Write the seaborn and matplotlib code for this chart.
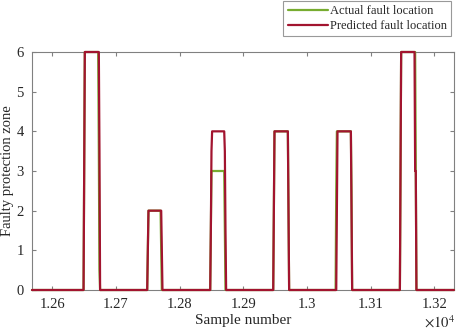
import numpy as np
import pandas as pd
import matplotlib
matplotlib.use('Agg')
import matplotlib.pyplot as plt
import seaborn as sns

# sample range shown on the x axis
x_first = 12568
x_last = 13231

# fault pulses (sample indices, zone levels)
pred_starts = [12650, 12750, 12849, 12948, 13047, 13147]
pred_ends = [12675, 12773, 12873, 12972, 13071, 13172]
pred_levels = [6, 2, 4, 4, 4, 6]
pred_rise = [[3], [1], [1.5, 3.5], [2], [2], [3]]
pred_fall = [[3.5], [1], [3.5, 1.5], [2], [2], [3, 3]]

act_starts = [12650, 12750, 12849, 12948, 13046, 13147]
act_ends = [12675, 12772, 12872, 12972, 13071, 13172]
act_levels = [6, 2, 3, 4, 4, 6]
act_rise = [[3], [1], [1.5, 3], [2], [2.5], [3]]
act_fall = [[3.5, 0.5], [1], [1.5], [2], [2.5], [3]]

x_ticks = [12600, 12700, 12800, 12900, 13000, 13100, 13200]
x_tick_labels = ['1.26', '1.27', '1.28', '1.29', '1.3', '1.31', '1.32']
y_ticks = [0, 1, 2, 3, 4, 5, 6]


def build_series(starts, ends, levels, rises, falls):
    samples = np.arange(x_first, x_last + 1)
    zone = np.zeros(len(samples))
    for s, e, lvl, r, f in zip(starts, ends, levels, rises, falls):
        i0 = s - x_first
        i1 = e - x_first
        zone[i0:i1] = lvl
        zone[i0:i0 + len(r)] = r
        zone[i1 - len(f):i1] = f
    return samples, zone


xa, ya = build_series(act_starts, act_ends, act_levels, act_rise, act_fall)
xp, yp = build_series(pred_starts, pred_ends, pred_levels, pred_rise, pred_fall)
df_act = pd.DataFrame({'sample': xa, 'zone': ya})
df_pred = pd.DataFrame({'sample': xp, 'zone': yp})

sns.set_theme(style='ticks')
plt.rcParams['font.family'] = ['Liberation Serif', 'DejaVu Serif']
plt.rcParams['mathtext.fontset'] = 'stix'

fig, ax = plt.subplots(figsize=(4.57, 3.30), dpi=100)
fig.subplots_adjust(left=0.070, right=0.9934, bottom=0.1212, top=0.8424)

sns.lineplot(data=df_act, x='sample', y='zone', ax=ax, color='#77AC30',
             linewidth=1.6, estimator=None, sort=False, label='Actual fault location')
sns.lineplot(data=df_pred, x='sample', y='zone', ax=ax, color='#A2142F',
             linewidth=1.6, estimator=None, sort=False, label='Predicted fault location')
for ln in ax.get_lines():
    ln.set_clip_on(False)

ax.set_xlim(x_first, x_last)
ax.set_ylim(0, 6)
ax.set_xticks(x_ticks)
ax.set_xticklabels(x_tick_labels)
ax.set_yticks(y_ticks)

grey = '#808080'
for sp in ax.spines.values():
    sp.set_color(grey)
    sp.set_linewidth(0.8)
    sp.set_visible(True)
    sp.set_zorder(0.5)
ax.tick_params(direction='in', top=True, right=True, length=3, width=0.8,
               color=grey, labelsize=10.5, labelcolor='#262626', pad=6)

ax.set_xlabel('Sample number', fontsize=11, color='#262626', labelpad=2)
ax.set_ylabel('Faulty protection zone', fontsize=10.5, color='#262626')
ax.yaxis.set_label_coords(-0.043, 0.5)

fig.text(455 / 457, 1 - 322 / 330, r'$\times10^{4}$', ha='right', va='center',
         fontsize=10.5, color='#262626')

leg = ax.legend(loc='upper right', bbox_to_anchor=(451 / 457, 1 - 1 / 330),
                bbox_transform=fig.transFigure, fontsize=9, handlelength=3.2,
                fancybox=False, frameon=True, borderaxespad=0, borderpad=0.35,
                labelspacing=0.2, handletextpad=0.15)
leg.get_frame().set_edgecolor(grey)
leg.get_frame().set_linewidth(0.8)

fig.savefig('out.png', dpi=100)
